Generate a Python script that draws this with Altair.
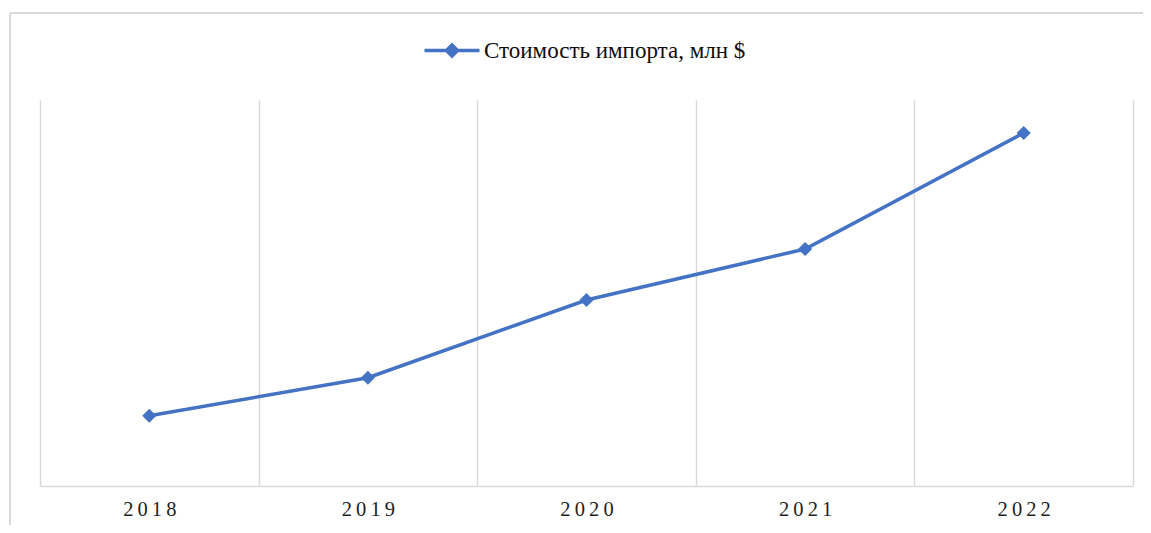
import altair as alt
import pandas as pd

years = ["2018", "2019", "2020", "2021", "2022"]
values = [70.3, 108.3, 186.0, 237.0, 353.0]
series_name = "Стоимость импорта, млн $"

df = pd.DataFrame({"year": years, "value": values, "series": [series_name] * len(years)})

W, H = 1093, 386
BLUE = "#4472C4"
GRID = "#d9d9d9"
SERIF = "Liberation Serif"

x_enc = alt.X(
    "year:N",
    sort=years,
    scale=alt.Scale(paddingInner=0, paddingOuter=0),
    axis=alt.Axis(
        title=None,
        labelAngle=0,
        tickBand="extent",
        grid=True,
        gridColor=GRID,
        gridWidth=1.5,
        ticks=False,
        tickSize=0,
        domainColor=GRID,
        domainWidth=1.5,
        labelFont=SERIF,
        labelFontSize=20.5,
        labelColor="#1f1f1f",
        labelPadding=13,
        labelExpr="join(split(datum.label, ''), '\u2009')",
    ),
)
y_enc = alt.Y("value:Q", scale=alt.Scale(domain=[0, 386], nice=False, zero=True), axis=None)

frame_top = alt.Chart(df).mark_rule(stroke=GRID, strokeWidth=1.5).encode(
    x=alt.value(-30), x2=alt.value(1130), y=alt.value(-87)
)
frame_left = alt.Chart(df).mark_rule(stroke=GRID, strokeWidth=1.5).encode(
    x=alt.value(-30), y=alt.value(-87), y2=alt.value(460)
)

line = alt.Chart(df).mark_line(strokeWidth=3.5).encode(
    x=x_enc,
    y=y_enc,
    color=alt.Color(
        "series:N",
        scale=alt.Scale(range=[BLUE]),
        legend=alt.Legend(
            title=None,
            orient="none",
            legendX=382.5,
            legendY=-79,
            padding=0,
            symbolType="M-1,0L1,0M-0.2,0L0,-0.2L0.2,0L0,0.2Z",
            symbolSize=3025,
            symbolStrokeWidth=3.5,
            symbolFillColor=BLUE,
            symbolStrokeColor=BLUE,
            labelFont=SERIF,
            labelFontSize=23,
            labelColor="#0d0d0d",
            labelOffset=2.5,
            labelLimit=600,
        ),
    ),
)

points = alt.Chart(df).mark_point(shape="diamond", filled=True, size=200, opacity=1, color=BLUE).encode(
    x=x_enc, y=y_enc
)

chart = (
    alt.layer(frame_top, frame_left, line, points)
    .properties(
        width=W,
        height=H,
        autosize=alt.AutoSizeParams(type="none"),
        padding={"left": 32, "top": 92, "right": 10, "bottom": 39},
    )
    .configure_view(stroke=None)
)

chart.save("out.html", embed_options={"renderer": "svg", "actions": False})
